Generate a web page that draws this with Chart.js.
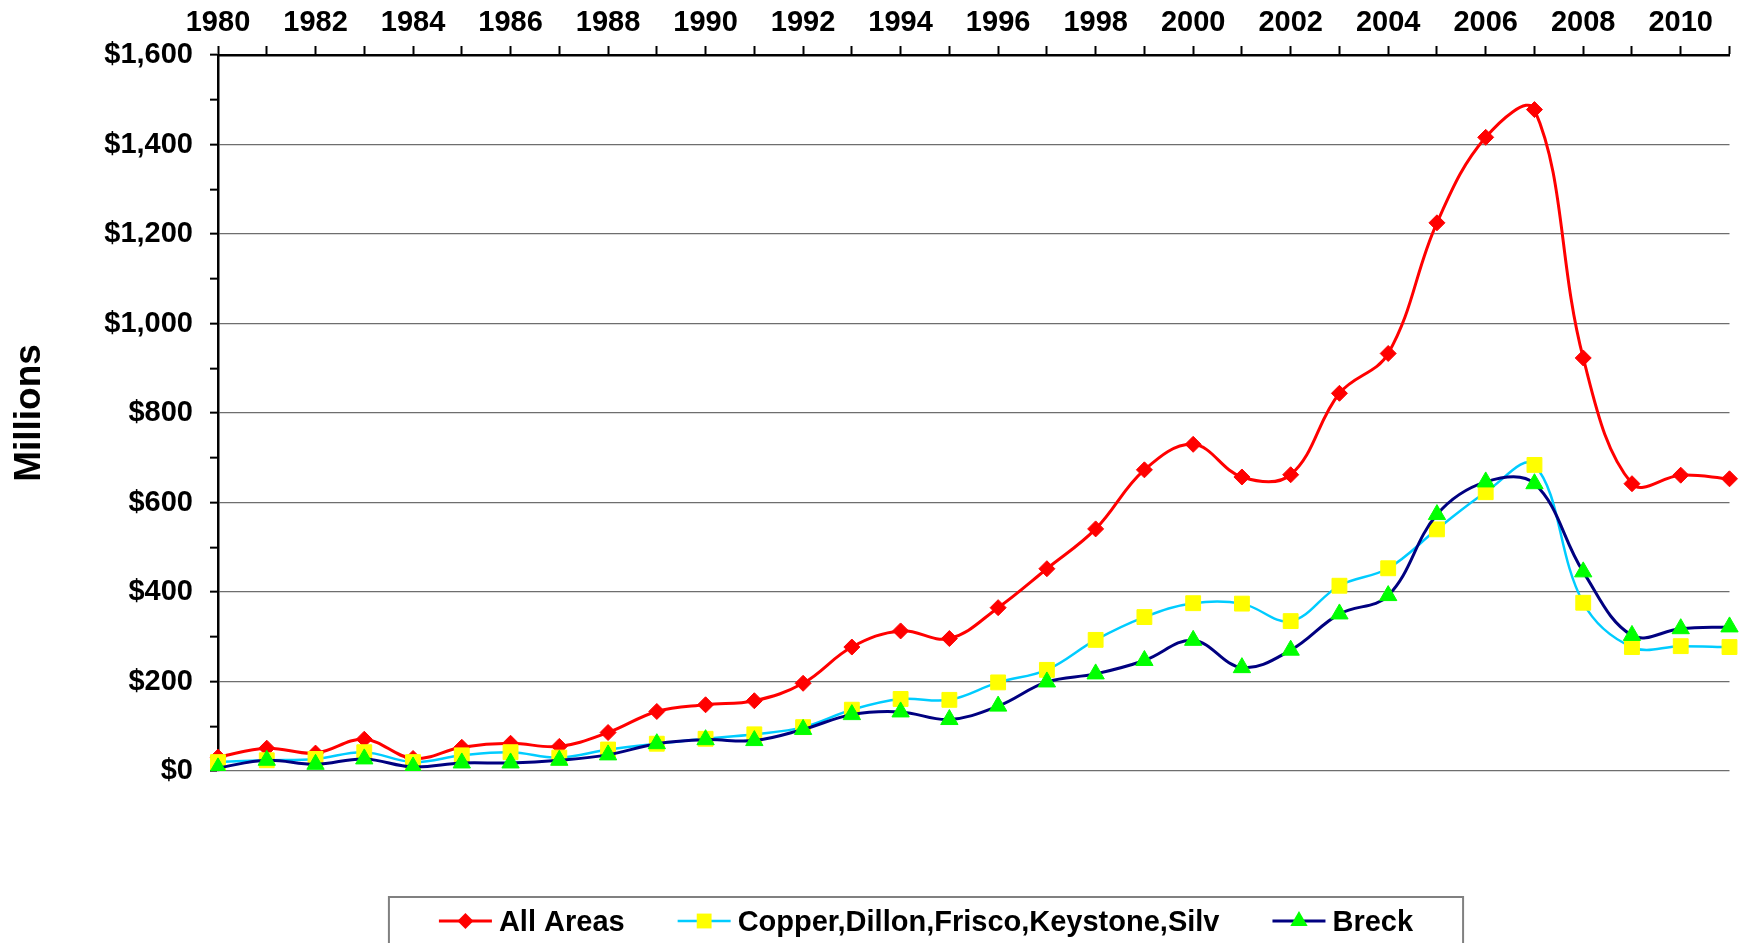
<!DOCTYPE html>
<html>
<head>
<meta charset="utf-8">
<title>Sales volume</title>
<script src="https://cdn.jsdelivr.net/npm/chart.js"></script>
<style>
  html, body { margin: 0; padding: 0; background: #fff; }
  #wrap { width: 1741px; height: 943px; position: relative; }
</style>
</head>
<body>
<div id="wrap"><canvas id="salesChart"></canvas></div>
<script>
// ---- data (millions of dollars) ----
const years = ['1980','1981','1982','1983','1984','1985','1986','1987','1988','1989',
  '1990','1991','1992','1993','1994','1995','1996','1997','1998','1999',
  '2000','2001','2002','2003','2004','2005','2006','2007','2008','2009','2010','2011'];

const seriesNames = ['All Areas', 'Copper,Dillon,Frisco,Keystone,Silv', 'Breck'];

const allAreas = [31, 51, 40, 71, 28, 53, 62, 55, 86, 133, 148, 157, 196, 277, 313, 296,
  365, 452, 541, 673, 730, 657, 662, 844, 933, 1225, 1416, 1478, 923, 642, 661, 653];

const copperEtc = [20, 24, 27, 42, 20, 35, 42, 30, 48, 61, 72, 82, 98, 137, 161, 159,
  198, 226, 293, 344, 375, 374, 335, 414, 453, 540, 623, 684, 376, 277, 279, 277];

const breck = [7, 24, 15, 27, 9, 18, 18, 24, 36, 61, 70, 68, 93, 126, 132, 115,
  145, 199, 217, 247, 292, 231, 270, 351, 392, 573, 646, 642, 445, 303, 318, 322];

const yTicks = { min: 0, max: 1600, major: 200, minor: 100 };

const FONT = '"Liberation Sans", Arial, sans-serif';

// legend drawn as in the spreadsheet: line sample with the marker on it, boxed below the plot
const lineLegend = {
  id: 'lineLegend',
  afterDraw(chart) {
    const ctx = chart.ctx;
    const cx = 926, midY = 921, baseY = 931;
    const sample = 53, textGap = 7, itemGap = 53, padX = 50;
    ctx.save();
    ctx.font = 'bold 29px ' + FONT;
    const items = chart.data.datasets.map(ds => ({ ds, w: ctx.measureText(ds.label).width }));
    const total = items.reduce((s, it) => s + sample + textGap + it.w, 0) + itemGap * (items.length - 1);

    // box
    ctx.strokeStyle = '#808080';
    ctx.lineWidth = 2;
    ctx.strokeRect(cx - total / 2 - padX, 897, total + 2 * padX, 80);

    let x = cx - total / 2;
    items.forEach(({ ds, w }) => {
      ctx.strokeStyle = ds.borderColor;
      ctx.lineWidth = ds.borderWidth;
      ctx.beginPath();
      ctx.moveTo(x, midY);
      ctx.lineTo(x + sample, midY);
      ctx.stroke();

      ctx.fillStyle = ds.pointBackgroundColor;
      ctx.strokeStyle = ds.pointBackgroundColor;
      Chart.helpers.drawPoint(ctx, {
        pointStyle: ds.pointStyle, radius: ds.pointRadius, rotation: 0, borderWidth: 0
      }, x + sample / 2, midY);

      ctx.fillStyle = '#000';
      ctx.textBaseline = 'alphabetic';
      ctx.textAlign = 'left';
      ctx.fillText(ds.label, x + sample + textGap, baseY);
      x += sample + textGap + w + itemGap;
    });
    ctx.restore();
  }
};

const ctx = document.getElementById('salesChart').getContext('2d');

new Chart(ctx, {
  type: 'line',
  data: {
    labels: years,
    datasets: [
      {
        label: seriesNames[0],
        data: allAreas,
        borderColor: '#ff0000',
        borderWidth: 3,
        pointStyle: 'rectRot',
        pointRadius: 8,
        pointBackgroundColor: '#ff0000',
        pointBorderColor: '#ff0000',
        pointBorderWidth: 1,
        tension: 0.38,
        order: 2
      },
      {
        label: seriesNames[1],
        data: copperEtc,
        borderColor: '#00ccff',
        borderWidth: 2.5,
        pointStyle: 'rect',
        pointRadius: 10.5,
        pointBackgroundColor: '#ffff00',
        pointBorderColor: '#ffff00',
        pointBorderWidth: 1,
        tension: 0.38,
        order: 1
      },
      {
        label: seriesNames[2],
        data: breck,
        borderColor: '#000080',
        borderWidth: 3,
        pointStyle: 'triangle',
        pointRadius: 10,
        pointBackgroundColor: '#00ff00',
        pointBorderColor: '#00ff00',
        pointBorderWidth: 1,
        tension: 0.38,
        order: 0
      }
    ]
  },
  options: {
    responsive: true,
    maintainAspectRatio: false,
    animation: false,
    layout: { padding: { left: 0, right: 3, top: 0, bottom: 172 } },
    plugins: {
      legend: { display: false },
      tooltip: { enabled: false }
    },
    scales: {
      x: {
        type: 'category',
        position: 'top',
        offset: false,
        afterFit(scale) { scale.height = 55; },
        grid: { drawOnChartArea: false, tickLength: 9, tickColor: '#000', tickWidth: 2 },
        border: { color: '#000', width: 2.5 },
        ticks: {
          autoSkip: false,
          maxRotation: 0,
          padding: 6,
          color: '#000',
          font: { family: FONT, size: 29, weight: 'bold' },
          callback: function (val, i) { return i % 2 === 0 ? this.getLabelForValue(val) : ''; }
        }
      },
      y: {
        min: yTicks.min,
        max: yTicks.max,
        afterFit(scale) { scale.width = 218; },
        border: { color: '#000', width: 2.5 },
        grid: {
          color: c => (c.tick && c.tick.value % yTicks.major === 0) ? '#6e6e6e' : 'rgba(0,0,0,0)',
          lineWidth: 1.3,
          tickColor: '#000',
          tickWidth: 2,
          tickLength: 8
        },
        ticks: {
          stepSize: yTicks.minor,
          padding: 17,
          color: '#000',
          font: { family: FONT, size: 29, weight: 'bold' },
          callback: v => v % yTicks.major === 0 ? '$' + v.toLocaleString('en-US') : ''
        },
        title: {
          display: true,
          text: 'Millions',
          color: '#000',
          font: { family: FONT, size: 37, weight: 'bold' },
          padding: { top: 8, bottom: 0 }
        }
      }
    }
  },
  plugins: [lineLegend]
});
</script>
</body>
</html>
